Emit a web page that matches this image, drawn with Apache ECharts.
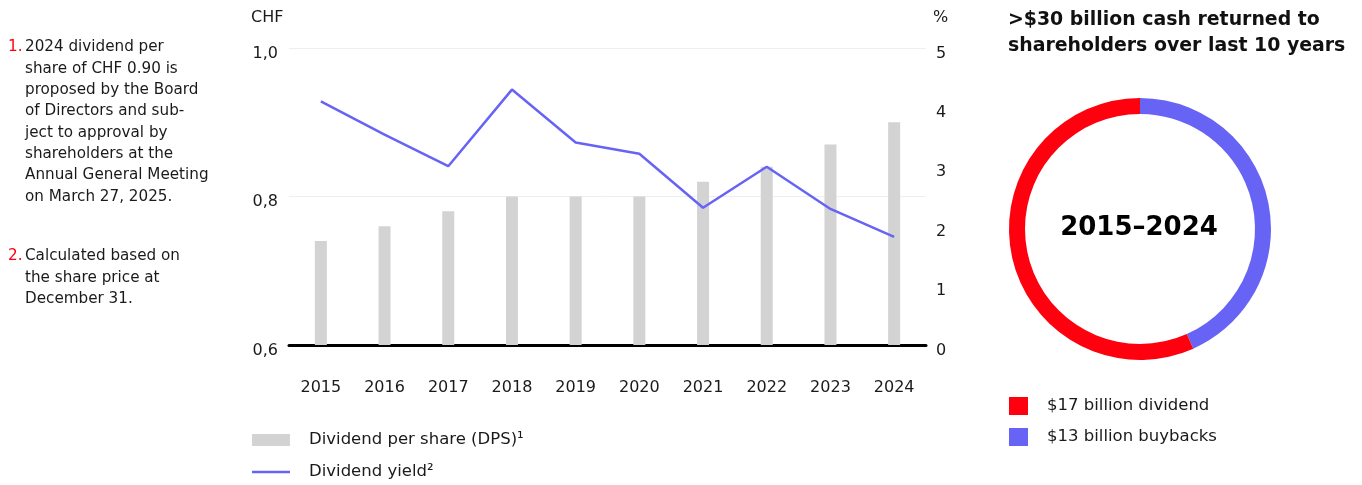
<!DOCTYPE html>
<html>
<head>
<meta charset="utf-8">
<script src="https://cdn.jsdelivr.net/npm/echarts@6/dist/echarts.min.js"></script>
<style>
html,body{margin:0;padding:0;background:#fff;}
#chart{width:1362px;height:485px;}
</style>
</head>
<body>
<div id="chart"></div>
<script>
const years = ['2015','2016','2017','2018','2019','2020','2021','2022','2023','2024'];
const dps = [0.74, 0.76, 0.78, 0.80, 0.80, 0.80, 0.82, 0.84, 0.87, 0.90];
const yieldPct = [4.10, 3.54, 3.01, 4.30, 3.41, 3.22, 2.31, 3.00, 2.29, 1.82];
const leftTicks = [0.6, 0.8, 1.0];
const rightTicks = [0, 1, 2, 3, 4, 5];
const cashNames = ['$13 billion buybacks', '$17 billion dividend'];
const cashValues = [13, 17];
const seriesNames = ['Dividend per share (DPS)\u00b9', 'Dividend yield\u00b2'];
const note1 = ['2024 dividend per', 'share of CHF 0.90 is', 'proposed by the Board', 'of Directors and sub-', 'ject to approval by', 'shareholders at the', 'Annual General Meeting', 'on March 27, 2025.'];
const note2 = ['Calculated based on', 'the share price at', 'December 31.'];
const titleLines = ['>$30 billion cash returned to', 'shareholders over last 10 years'];
const centerLabel = '2015\u20132024';

const RED = '#ff000f';
const BLUE = '#6764f5';
const GREY = '#d3d3d3';
const TXT = '#1a1a1a';
const FONT = '"DejaVu Sans", sans-serif';
const AXF = '"DejaVu Sans", sans-serif';

const chart = echarts.init(document.getElementById('chart'), null, {renderer: 'canvas'});

function noteGraphic(num, lines, top) {
  const els = [];
  els.push({type: 'text', left: 8, top: top, style: {text: num + '.', fill: RED, font: '15.2px ' + FONT}});
  lines.forEach((l, i) => {
    els.push({type: 'text', left: 25, top: top + i * 21.3, style: {text: l, fill: TXT, font: '15.2px ' + FONT}});
  });
  return els;
}

const legendText = {color: TXT, fontSize: 16.5, fontFamily: FONT, lineHeight: 18, padding: [0, 0, 0, 14]};
const tickRich = {t: {fontSize: 16, fontFamily: AXF, color: TXT, padding: [11, 0, 0, 0]}};

const option = {
  animation: false,
  backgroundColor: '#fff',
  textStyle: {fontFamily: FONT},
  grid: {left: 289, right: 436, top: 48, bottom: 140, containLabel: false},
  xAxis: {
    type: 'category',
    data: years,
    axisLine: {lineStyle: {color: '#000', width: 3}},
    axisTick: {show: false},
    axisLabel: {color: TXT, fontSize: 16, fontFamily: AXF, margin: 35}
  },
  yAxis: [
    {
      type: 'value', min: 0.6, max: 1.0, interval: 0.2,
      axisLine: {show: false}, axisTick: {show: false},
      splitLine: {lineStyle: {color: '#eeeeee', width: 1}},
      axisLabel: {margin: 11, rich: tickRich,
        formatter: v => leftTicks.some(t => Math.abs(t - v) < 1e-6) ? '{t|' + v.toFixed(1).replace('.', ',') + '}' : ''}
    },
    {
      type: 'value', min: 0, max: 5, interval: 1,
      axisLine: {show: false}, axisTick: {show: false},
      splitLine: {show: false},
      axisLabel: {margin: 10, rich: tickRich,
        formatter: v => rightTicks.includes(v) ? '{t|' + v + '}' : ''}
    }
  ],
  legend: [
    {
      data: [seriesNames[0]], left: 252, top: 431, padding: 0,
      icon: 'rect', itemWidth: 38, itemHeight: 12,
      textStyle: legendText, selectedMode: false
    },
    {
      data: [seriesNames[1]], left: 252, top: 463, padding: 0,
      icon: 'rect', itemWidth: 38, itemHeight: 2.5,
      textStyle: legendText, selectedMode: false
    },
    {
      data: ['$17 billion dividend', '$13 billion buybacks'],
      orient: 'vertical', left: 1009, top: 397, padding: 0,
      icon: 'rect', itemWidth: 19, itemHeight: 18, itemGap: 13,
      textStyle: legendText, selectedMode: false
    }
  ],
  series: [
    {
      name: seriesNames[0], type: 'bar', data: dps, yAxisIndex: 0,
      barWidth: 12, itemStyle: {color: GREY}, silent: true
    },
    {
      name: seriesNames[1], type: 'line', data: yieldPct, yAxisIndex: 1,
      symbol: 'none', lineStyle: {color: BLUE, width: 2.5}, itemStyle: {color: BLUE}, silent: true
    },
    {
      type: 'pie', center: [1140, 229], radius: [115, 131],
      startAngle: 90, clockwise: true, silent: true,
      label: {show: false}, labelLine: {show: false},
      data: cashNames.map((n, i) => ({name: n, value: cashValues[i], itemStyle: {color: i === 0 ? BLUE : RED}}))
    }
  ],
  graphic: [
    {type: 'text', left: 251, top: 10, style: {text: 'CHF', fill: TXT, font: '16px ' + AXF}},
    {type: 'text', left: 933, top: 10, style: {text: '%', fill: TXT, font: '16px ' + AXF}},
    {type: 'text', left: 1008, top: 7, style: {text: titleLines.join('\n'), fill: '#111', font: 'bold 18.9px ' + FONT, lineHeight: 26}},
    {type: 'text', x: 1139, y: 228, style: {text: centerLabel, fill: '#000', font: 'bold 26px ' + AXF, align: 'center', verticalAlign: 'middle'}}
  ].concat(noteGraphic(1, note1, 40), noteGraphic(2, note2, 249))
};
chart.setOption(option);
</script>
</body>
</html>
